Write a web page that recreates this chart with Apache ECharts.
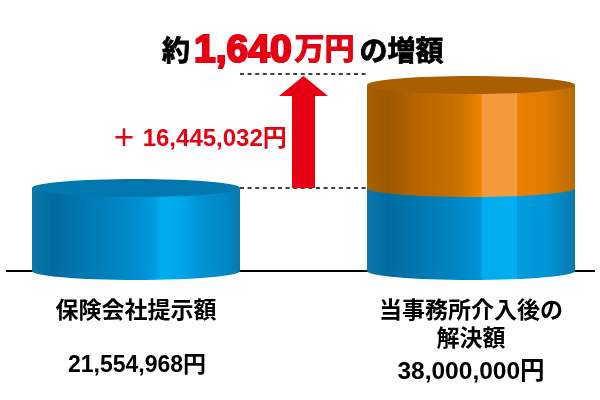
<!DOCTYPE html>
<html><head><meta charset="utf-8">
<style>html,body{margin:0;padding:0;background:#fff}#c{width:600px;height:400px}</style>
<script src="https://cdn.jsdelivr.net/npm/echarts@6/dist/echarts.min.js"></script>
</head><body><div id="c"></div>
<script>
// Cylinder heights as drawn in the picture (the graphic is not to scale with its printed amounts)
const categories = ['保険会社提示額', '当事務所介入後の\n解決額'];
const amountLabels = ['21,554,968円', '38,000,000円'];
const baseHeights = [83, 83];
const increaseHeights = [0, 103];
const markerLevels = [83, 197];
const arrowTipLevel = 195;
const differenceLabel = '＋ 16,445,032円';
const headlineParts = ['約', '1,640', '万円', 'の増額'];

const blueStops = [[0,'#0b78ac'],[.1,'#006b9e'],[.25,'#0078b0'],[.45,'#0088c8'],[.58,'#0098dc'],[.62,'#00aeef'],[.72,'#00a6ea'],[.8,'#0094d6'],[.93,'#0088c4'],[1,'#0a79ac']];
const blueStopsRight = [[0,'#0b78ac'],[.1,'#006b9e'],[.25,'#0078b0'],[.45,'#0088c8'],[.55,'#0094d8'],[.553,'#00aeef'],[.72,'#00aeef'],[.722,'#009cdf'],[.87,'#0094d6'],[1,'#0a79ac']];
const orangeStops = [[0,'#a86000'],[.1,'#9a5800'],[.23,'#b56400'],[.45,'#cc7200'],[.55,'#f08400'],[.552,'#f39a3c'],[.72,'#f39a3c'],[.722,'#ec8000'],[.85,'#e07c00'],[1,'#b86a00']];
const grad = s => new echarts.graphic.LinearGradient(0,0,1,0,s.map(([offset,color])=>({offset,color})));
const halfW = 104, ry = 9;

function cyl(cx, yTop, yBot, stops, topColor) {
  const els = [
    {type:'ellipse', shape:{cx, cy:yBot, rx:halfW, ry}, style:{fill:grad(stops)}},
    {type:'rect', shape:{x:cx-halfW, y:yTop, width:halfW*2, height:yBot-yTop}, style:{fill:grad(stops)}}
  ];
  if (topColor) els.push({type:'ellipse', shape:{cx, cy:yTop, rx:halfW, ry}, style:{fill:topColor}});
  return els;
}

const headBlack = {fontFamily:'Noto Sans CJK JP',fontWeight:'bold',fontSize:28,color:'#000',textBorderColor:'#000',textBorderWidth:.8};
const option = {
  animation:false,
  backgroundColor:'#fff',
  title:{
    left:157, top:24,
    text:`{a|${headlineParts[0]}}{b|${headlineParts[1]}}{d|${headlineParts[2]}}{c|${headlineParts[3]}}`,
    textStyle:{rich:{
      a:{...headBlack,padding:[0,3,0,0]},
      b:{fontFamily:'Liberation Sans',fontWeight:'bold',fontSize:39,color:'#e60012',textBorderColor:'#e60012',textBorderWidth:2.2,padding:[3,3,0,1]},
      d:{fontFamily:'Noto Sans CJK JP',fontWeight:'bold',fontSize:30,color:'#e60012',textBorderColor:'#e60012',textBorderWidth:1.1,padding:[0,2,5,0]},
      c:{...headBlack,padding:[0,0,0,3]}
    }}
  },
  grid:{left:136,right:129,top:0,bottom:129},
  xAxis:{type:'category',boundaryGap:false,data:categories,
    axisLine:{show:false},axisTick:{show:false},splitLine:{show:false},
    axisLabel:{margin:24,interval:0,hideOverlap:false,color:'#000',fontFamily:'Noto Sans CJK JP',fontWeight:'bold',fontSize:23,lineHeight:28,verticalAlign:'top'}},
  yAxis:{type:'value',min:0,max:271,show:false},
  graphic:[
    {type:'line',z:0,shape:{x1:6,y1:271,x2:595,y2:271},style:{stroke:'#000',lineWidth:2}},
    {type:'text',x:112,y:139,style:{text:differenceLabel,fill:'#e60012',font:'bold 24px "Liberation Sans","Noto Sans CJK JP"',textVerticalAlign:'middle'}},
    {type:'text',x:137,y:366,style:{text:amountLabels[0],fill:'#000',font:'bold 23px "Liberation Sans","Noto Sans CJK JP"',textAlign:'center',textVerticalAlign:'middle'}},
    {type:'text',x:471,y:372,style:{text:amountLabels[1],fill:'#000',font:'bold 24.5px "Liberation Sans","Noto Sans CJK JP"',textAlign:'center',textVerticalAlign:'middle'}}
  ],
  series:[
    {type:'custom',z:3,clip:false,silent:true,
     data:categories.map((_,i)=>[i,baseHeights[i],increaseHeights[i]]),
     renderItem(p,api){
       const [cx,y0]=api.coord([api.value(0),0]);
       const yb=api.coord([api.value(0),api.value(1)])[1];
       const yt=api.coord([api.value(0),api.value(1)+api.value(2)])[1];
       let children=cyl(cx,yb,y0,api.value(2)?blueStopsRight:blueStops,api.value(2)?null:'#0077ae');
       if(api.value(2)) children=children.concat(cyl(cx,yt,yb,orangeStops,'#a95e00'));
       return {type:'group',children};
     }},
    {type:'custom',z:2,clip:false,silent:true,
     data:markerLevels.map(v=>[v]),
     renderItem(p,api){
       const a=api.coord([0,api.value(0)]),b=api.coord([1,api.value(0)]);
       return {type:'line',shape:{x1:a[0]+104,y1:a[1],x2:b[0]-104,y2:a[1]},style:{stroke:'#000',lineWidth:1.5,lineDash:[4,3.6]}};
     }},
    {type:'custom',z:4,clip:false,silent:true,
     data:[[markerLevels[0],arrowTipLevel]],
     renderItem(p,api){
       const l=api.coord([0,0])[0],r=api.coord([1,0])[0];
       const cx=(l+r)/2;
       const y0=api.coord([0,api.value(0)])[1],tip=api.coord([0,api.value(1)])[1];
       const neck=tip+20;
       return {type:'polygon',shape:{points:[[cx-11.5,y0],[cx-11.5,neck],[cx-24.5,neck],[cx,tip],[cx+24.5,neck],[cx+11.5,neck],[cx+11.5,y0]]},style:{fill:'#e60012'}};
     }}
  ]
};
echarts.init(document.getElementById('c'),null,{renderer:'canvas'}).setOption(option);
</script></body></html>
